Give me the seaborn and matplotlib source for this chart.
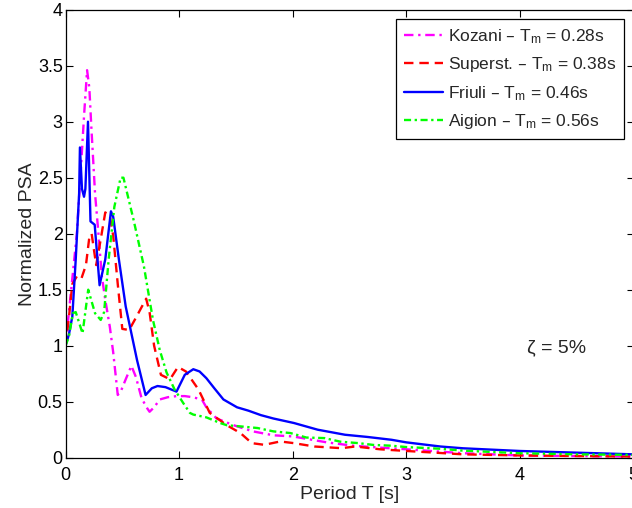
import numpy as np
import pandas as pd
import matplotlib
matplotlib.use("Agg")
import matplotlib.pyplot as plt
import seaborn as sns

# Normalized response spectra (5% damping)
t_kozani = [0, 0.03, 0.065, 0.10, 0.14, 0.165, 0.19, 0.21, 0.227, 0.26, 0.29, 0.32, 0.35, 0.39,
            0.42, 0.46, 0.49, 0.53, 0.58, 0.62, 0.67, 0.72, 0.74, 0.78, 0.83, 0.9, 0.98, 1.05,
            1.12, 1.2, 1.24, 1.33, 1.48, 1.65, 1.83, 2.0, 2.3, 2.53, 2.77, 3.0, 3.5, 4.0, 4.5, 5.0]
psa_kozani = [1.0, 1.3, 1.65, 2.0, 2.66, 3.08, 3.46, 3.3, 2.96, 2.36, 2.0, 1.62, 1.41, 1.17,
              0.94, 0.56, 0.6, 0.7, 0.82, 0.72, 0.53, 0.44, 0.41, 0.45, 0.52, 0.54, 0.55, 0.55,
              0.54, 0.52, 0.45, 0.35, 0.29, 0.235, 0.2, 0.19, 0.137, 0.107, 0.09, 0.075, 0.04,
              0.02, 0.015, 0.01]

t_superst = [0, 0.03, 0.06, 0.10, 0.14, 0.18, 0.21, 0.23, 0.27, 0.31, 0.35, 0.39, 0.42, 0.46,
             0.50, 0.56, 0.62, 0.71, 0.74, 0.78, 0.84, 0.92, 0.99, 1.06, 1.17, 1.27, 1.42, 1.54,
             1.64, 1.75, 1.89, 2.01, 2.19, 2.43, 2.55, 2.77, 2.97, 3.5, 4.0, 4.5, 5.0]
psa_superst = [1.0, 1.25, 1.55, 1.62, 1.6, 1.72, 1.97, 2.0, 1.72, 1.95, 2.19, 2.16, 1.98, 1.55,
               1.15, 1.14, 1.25, 1.42, 1.3, 1.0, 0.74, 0.70, 0.81, 0.77, 0.61, 0.40, 0.29, 0.22,
               0.13, 0.115, 0.145, 0.13, 0.10, 0.085, 0.10, 0.075, 0.062, 0.03, 0.02, 0.015, 0.01]

t_friuli = [0, 0.03, 0.06, 0.09, 0.12, 0.127, 0.145, 0.163, 0.175, 0.198, 0.22, 0.257, 0.30,
            0.35, 0.40, 0.42, 0.47, 0.53, 0.63, 0.705, 0.76, 0.81, 0.88, 0.977, 1.05, 1.125,
            1.18, 1.24, 1.31, 1.39, 1.51, 1.61, 1.72, 1.83, 2.01, 2.22, 2.46, 2.66, 2.87, 3.0,
            3.3, 3.5, 4.0, 4.5, 5.0]
psa_friuli = [1.0, 1.1, 1.26, 1.77, 2.36, 2.77, 2.4, 2.33, 2.4, 3.0, 2.11, 2.08, 1.54,
              1.77, 2.2, 2.15, 1.77, 1.35, 0.87, 0.56, 0.62, 0.64, 0.63, 0.59, 0.74, 0.79,
              0.77, 0.71, 0.62, 0.52, 0.45, 0.42, 0.38, 0.35, 0.31, 0.25, 0.205, 0.185, 0.16,
              0.137, 0.10, 0.084, 0.06, 0.045, 0.03]

t_aigion = [0, 0.03, 0.065, 0.09, 0.15, 0.20, 0.26, 0.31, 0.34, 0.38, 0.43, 0.485, 0.51, 0.60,
            0.69, 0.75, 0.77, 0.83, 0.89, 0.96, 1.035, 1.095, 1.125, 1.24, 1.36, 1.42, 1.535,
            1.69, 1.83, 1.98, 2.12, 2.28, 2.42, 2.58, 2.71, 2.87, 3.0, 3.3, 3.5, 4.0, 4.5, 5.0]
psa_aigion = [1.0, 1.08, 1.29, 1.3, 1.11, 1.5, 1.29, 1.23, 1.3, 1.77, 2.24, 2.5, 2.5, 2.12,
              1.71, 1.35, 1.23, 0.96, 0.76, 0.61, 0.49, 0.40, 0.385, 0.36, 0.31, 0.29, 0.28,
              0.265, 0.235, 0.22, 0.18, 0.175, 0.143, 0.13, 0.114, 0.107, 0.095, 0.08, 0.063,
              0.04, 0.03, 0.025]

labels = ["Kozani – T$_m$ = 0.28s", "Superst. – T$_m$ = 0.38s",
          "Friuli – T$_m$ = 0.46s", "Aigion – T$_m$ = 0.56s"]
x_ticks = [0, 1, 2, 3, 4, 5]
y_ticks = [0, 0.5, 1, 1.5, 2, 2.5, 3, 3.5, 4]
y_ticklabels = ["0", "0.5", "1", "1.5", "2", "2.5", "3", "3.5", "4"]

sns.set_style("ticks")
plt.rcParams["font.family"] = ["Liberation Sans", "DejaVu Sans"]
plt.rcParams["mathtext.default"] = "regular"

fig = plt.figure(figsize=(6.32, 5.08), dpi=100)
ax = fig.add_axes([65.5 / 632, 50.3 / 508, 568 / 632, 448 / 508])

series = [
    (t_kozani, psa_kozani, "#ff00ff", (0, (4, 2, 1, 2))),
    (t_superst, psa_superst, "#ff0000", (0, (4, 2.5))),
    (t_friuli, psa_friuli, "#0000ff", "-"),
    (t_aigion, psa_aigion, "#00ff00", (0, (3, 1.5, 1, 1.5))),
]
for (t, v, c, ls), lab in zip(series, labels):
    df = pd.DataFrame({"T": t, "PSA": v})
    sns.lineplot(data=df, x="T", y="PSA", ax=ax, color=c, linestyle=ls, lw=1.7,
                 label=lab, sort=False, estimator=None)

ax.set_xlim(0, 5)
ax.set_ylim(0, 4)
ax.set_xticks(x_ticks)
ax.set_xticklabels([str(x) for x in x_ticks])
ax.set_yticks(y_ticks)
ax.set_yticklabels(y_ticklabels)
ax.tick_params(direction="in", top=True, right=True, length=5, width=0.8,
               labelsize=13, colors="black")
ax.tick_params(axis="x", pad=7)
ax.tick_params(axis="y", pad=2)
for s in ax.spines.values():
    s.set_color("black")
    s.set_linewidth(0.9)

ax.set_xlabel("Period T [s]", fontsize=14, labelpad=1)
ax.set_ylabel("Normalized PSA", fontsize=14, labelpad=1)

ax.text(4.06, 0.98, "ζ = 5%", fontsize=14, va="center", ha="left")

leg = ax.legend(loc="upper right", fontsize=12.5, frameon=True, fancybox=False,
                framealpha=1, edgecolor="black", handlelength=2.25, handletextpad=0.3,
                labelspacing=0.55, borderaxespad=0.55, borderpad=0.45)
leg.get_frame().set_linewidth(0.9)

fig.savefig("out.png", dpi=100)
